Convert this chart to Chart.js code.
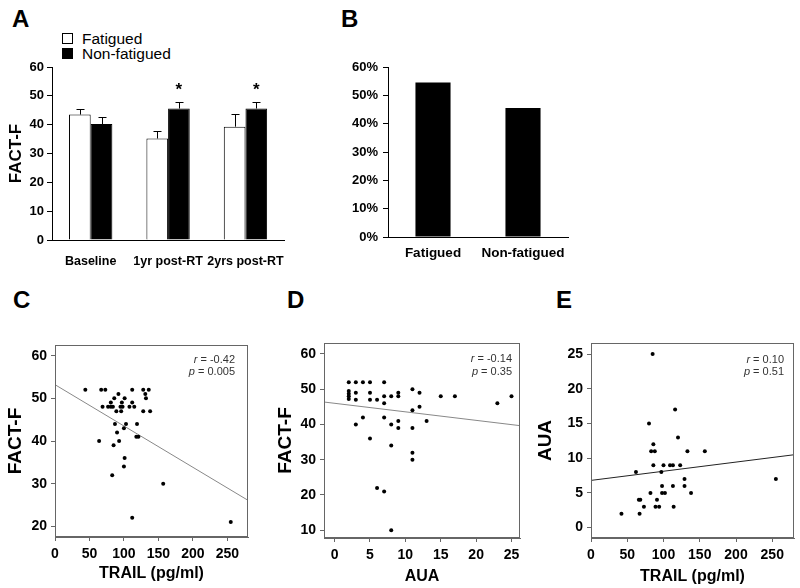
<!DOCTYPE html>
<html>
<head>
<meta charset="utf-8">
<script src="https://cdn.jsdelivr.net/npm/chart.js@4.4.0/dist/chart.umd.min.js"></script>
<style>
    body { margin: 0; background: #fff; width: 800px; height: 588px; position: relative; overflow: hidden;
           font-family: Arial, "Liberation Sans", sans-serif; color: #000; }
    canvas { position: absolute; }
    .tag { position: absolute; font-weight: bold; font-size: 24px; line-height: 24px; }
    .lg { position: absolute; font-size: 15.5px; line-height: 15px; white-space: nowrap; }
    .sw { position: absolute; width: 9px; height: 9px; border: 1px solid #000; }
</style>
</head>
<body>
<div class="tag" style="left:12px;top:7px">A</div>
<div class="tag" style="left:341px;top:7px">B</div>
<div class="tag" style="left:13px;top:288px">C</div>
<div class="tag" style="left:287px;top:288px">D</div>
<div class="tag" style="left:556px;top:288px">E</div>

<div class="sw" style="left:62px;top:33px;background:#fff"></div>
<div class="lg" style="left:82px;top:31px">Fatigued</div>
<div class="sw" style="left:62px;top:48px;background:#000"></div>
<div class="lg" style="left:82px;top:46px">Non-fatigued</div>

<canvas id="chartA" width="300" height="270" style="left:0;top:0"></canvas>
<canvas id="chartB" width="300" height="270" style="left:300px;top:0"></canvas>
<canvas id="chartC" width="270" height="298" style="left:0;top:290px"></canvas>
<canvas id="chartD" width="270" height="298" style="left:270px;top:290px"></canvas>
<canvas id="chartE" width="270" height="298" style="left:530px;top:290px"></canvas>

<script>
// Panel A: FACT-F by time point
var groups = ['Baseline', '1yr post-RT', '2yrs post-RT'];
var fatigued = [43.5, 35.2, 39.3];
var fatiguedErr = [2.1, 2.5, 4.5];
var nonFatigued = [40.2, 45.6, 45.6];
var nonFatiguedErr = [2.5, 2.2, 2.2];
var nonFatiguedSig = [false, true, true];
var aTicks = [0, 10, 20, 30, 40, 50, 60];

// Panel B: share of patients
var bGroups = ['Fatigued', 'Non-fatigued'];
var bPercent = [54.5, 45.5];

// Panel C: FACT-F vs TRAIL
var cTrail = [44, 67, 73, 112, 128, 136, 92, 131, 86, 101, 132, 81, 97, 112,
              69, 77, 81, 84, 95, 98, 108, 115, 89, 96, 128, 138, 87, 103, 119,
              100, 90, 118, 121, 64, 93, 85, 101, 100, 83, 157, 112, 255];
var cFact = [52, 52, 52, 52, 52, 52, 51, 51, 50, 50, 50, 49, 49, 49,
             48, 48, 48, 48, 48, 48, 48, 48, 47, 47, 47, 47, 44, 44, 44,
             43, 42, 41, 41, 40, 40, 39, 36, 34, 32, 30, 22, 21];
var cFit = [53.2, -0.0968];   // intercept, slope
var cStats = ['-0.42', '0.005'];
var cXTicks = [0, 50, 100, 150, 200, 250];
var cYTicks = [20, 30, 40, 50, 60];

// Panel D: FACT-F vs AUA
var dAua = [2, 3, 4, 5, 7, 11, 2, 2, 2, 2, 3, 3, 5, 5, 6, 7, 7, 8, 9, 9, 12,
            11, 12, 13, 15, 17, 23, 25, 4, 3, 7, 8, 9, 9, 11, 5, 8, 11, 11, 6, 7, 8];
var dFact = [52, 52, 52, 52, 52, 50, 49.5, 48.7, 48, 47.2, 49, 47, 49, 47, 47, 48, 46, 48, 49, 48, 49,
             44, 45, 41, 48, 48, 46, 48, 42, 40, 42, 40, 41, 39, 39, 36, 34, 32, 30, 22, 21, 10];
var dFit = [46.0, -0.242];
var dStats = ['-0.14', '0.35'];
var dXTicks = [0, 5, 10, 15, 20, 25];
var dYTicks = [10, 20, 30, 40, 50, 60];

// Panel E: AUA vs TRAIL
var eTrail = [85, 116, 80, 120, 86, 83, 88, 133, 157, 86, 100, 109, 113, 123, 62, 97, 129,
              98, 113, 129, 82, 98, 102, 138, 66, 68, 91, 73, 89, 94, 114, 42, 67, 255];
var eAua = [25, 17, 15, 13, 12, 11, 11, 11, 11, 9, 9, 9, 9, 9, 8, 8, 7,
            6, 6, 6, 5, 5, 5, 5, 4, 4, 4, 3, 3, 3, 3, 2, 2, 7];
var eFit = [6.8, 0.0132];
var eStats = ['0.10', '0.51'];
var eXTicks = [0, 50, 100, 150, 200, 250];
var eYTicks = [0, 5, 10, 15, 20, 25];

var FONT = 'Arial, "Liberation Sans", sans-serif';
Chart.defaults.font.family = FONT;
Chart.defaults.color = '#000';
Chart.defaults.animation = false;
Chart.defaults.plugins.legend.display = false;
Chart.defaults.plugins.tooltip.enabled = false;

function fixSize(prop, size) {
    return function (scale) { scale[prop] = size; };
}
function setTicks(list) {
    return function (scale) {
        scale.ticks = list.map(function (v) { return { value: v }; });
    };
}

// upper error bars and significance stars for panel A
var errorBars = {
    id: 'errorBars',
    afterDatasetsDraw: function (chart) {
        var ctx = chart.ctx;
        var y = chart.scales.y;
        chart.data.datasets.forEach(function (ds, i) {
            chart.getDatasetMeta(i).data.forEach(function (bar, j) {
                var top = Math.round(y.getPixelForValue(ds.data[j] + ds.errors[j])) + 0.5;
                var x = Math.round(bar.x) + 0.5;
                ctx.save();
                ctx.strokeStyle = '#000';
                ctx.lineWidth = 1;
                ctx.beginPath();
                ctx.moveTo(x, bar.y);
                ctx.lineTo(x, top);
                ctx.moveTo(x - 4, top);
                ctx.lineTo(x + 4, top);
                ctx.stroke();
                if (ds.sig && ds.sig[j]) {
                    ctx.fillStyle = '#000';
                    ctx.font = 'bold 17px ' + FONT;
                    ctx.textAlign = 'center';
                    ctx.textBaseline = 'alphabetic';
                    ctx.fillText('*', bar.x, top - 8);
                }
                ctx.restore();
            });
        });
    }
};

new Chart(document.getElementById('chartA'), {
    type: 'bar',
    data: {
        labels: groups,
        datasets: [{
            label: 'Fatigued',
            data: fatigued,
            errors: fatiguedErr,
            backgroundColor: '#fff',
            borderColor: '#000',
            borderWidth: 1,
            barPercentage: 1,
            categoryPercentage: 0.56
        }, {
            label: 'Non-fatigued',
            data: nonFatigued,
            errors: nonFatiguedErr,
            sig: nonFatiguedSig,
            backgroundColor: '#000',
            borderColor: '#000',
            borderWidth: 1,
            barPercentage: 1,
            categoryPercentage: 0.56
        }]
    },
    options: {
        responsive: false,
        layout: { padding: { top: 67, right: 14, left: 0, bottom: 0 } },
        scales: {
            x: {
                afterFit: fixSize('height', 30),
                grid: { display: false, drawTicks: false },
                border: { display: true, color: '#000', width: 1 },
                ticks: { padding: 14, autoSkip: false, maxRotation: 0, minRotation: 0,
                         font: { size: 12.5, weight: 'bold' } }
            },
            y: {
                min: 0, max: 60,
                afterFit: fixSize('width', 52),
                afterBuildTicks: setTicks(aTicks),
                grid: { drawOnChartArea: false, tickLength: 5, color: '#000' },
                border: { display: true, color: '#000', width: 1 },
                ticks: { padding: 3, font: { size: 13, weight: 'bold' } },
                title: { display: true, text: 'FACT-F', padding: { top: 6, bottom: 0 },
                         font: { size: 17, weight: 'bold' } }
            }
        }
    },
    plugins: [errorBars]
});

new Chart(document.getElementById('chartB'), {
    type: 'bar',
    data: {
        labels: bGroups,
        datasets: [{
            data: bPercent,
            backgroundColor: '#000',
            barPercentage: 0.39,
            categoryPercentage: 1
        }]
    },
    options: {
        responsive: false,
        layout: { padding: { top: 67, right: 32, left: 0, bottom: 0 } },
        scales: {
            x: {
                afterFit: fixSize('height', 33),
                grid: { display: false, drawTicks: false },
                border: { display: true, color: '#000', width: 1 },
                ticks: { padding: 8, autoSkip: false, maxRotation: 0, font: { size: 13.5, weight: 'bold' } }
            },
            y: {
                min: 0, max: 60,
                afterFit: fixSize('width', 88),
                afterBuildTicks: setTicks(aTicks),
                grid: { drawOnChartArea: false, tickLength: 5, color: '#000' },
                border: { display: true, color: '#000', width: 1 },
                ticks: {
                    padding: 5,
                    font: { size: 13, weight: 'bold' },
                    callback: function (v) { return v + '%'; }
                }
            }
        }
    }
});

// frame around the plot and the r / p note in its corner
var framePlugin = {
    id: 'frame',
    afterDraw: function (chart) {
        var ctx = chart.ctx;
        var a = chart.chartArea;
        var o = chart.options.plugins.frame;
        ctx.save();
        ctx.strokeStyle = '#666';
        ctx.lineWidth = 1;
        ctx.strokeRect(Math.round(a.left) + 0.5, Math.round(a.top) + 0.5,
                       Math.round(a.right - a.left) - 1, Math.round(a.bottom - a.top) - 1);
        ctx.fillStyle = '#333';
        ctx.textBaseline = 'middle';
        ctx.textAlign = 'left';
        var rows = [['r', ' = ' + o.stats[0]], ['p', ' = ' + o.stats[1]]];
        rows.forEach(function (row, k) {
            ctx.font = '11px ' + FONT;
            var w2 = ctx.measureText(row[1]).width;
            ctx.font = 'italic 11px ' + FONT;
            var w1 = ctx.measureText(row[0]).width;
            var x = a.right - o.inset - w1 - w2;
            var y = a.top + o.rows[k];
            ctx.fillText(row[0], x, y);
            ctx.font = '11px ' + FONT;
            ctx.fillText(row[1], x + w1, y);
        });
        ctx.restore();
    }
};

function drawScatter(id, cfg) {
    var pts = cfg.xs.map(function (x, i) { return { x: x, y: cfg.ys[i] }; });
    var line = [cfg.xMin, cfg.xMax].map(function (x) {
        return { x: x, y: cfg.fit[0] + cfg.fit[1] * x };
    });
    new Chart(document.getElementById(id), {
        type: 'scatter',
        data: {
            datasets: [{
                data: pts,
                pointRadius: 2,
                pointBackgroundColor: '#000',
                pointBorderWidth: 0
            }, {
                type: 'line',
                data: line,
                borderColor: cfg.lineColor,
                borderWidth: 1,
                pointRadius: 0,
                fill: false
            }]
        },
        options: {
            responsive: false,
            layout: { padding: { top: cfg.top, right: cfg.right, left: 0, bottom: 0 } },
            plugins: { frame: { stats: cfg.stats, inset: cfg.inset, rows: cfg.rows } },
            scales: {
                x: {
                    type: 'linear',
                    min: cfg.xMin, max: cfg.xMax,
                    afterFit: fixSize('height', cfg.xHeight),
                    afterBuildTicks: setTicks(cfg.xTicks),
                    grid: { drawOnChartArea: false, tickLength: 4, color: '#666' },
                    border: { display: true, color: '#666', width: 1 },
                    ticks: { padding: 5, maxRotation: 0, font: { size: 14, weight: 'bold' } },
                    title: { display: true, text: cfg.xTitle, padding: { top: 0, bottom: cfg.xTitlePad },
                             font: { size: 16, weight: 'bold' } }
                },
                y: {
                    min: cfg.yMin, max: cfg.yMax,
                    afterFit: fixSize('width', cfg.yWidth),
                    afterBuildTicks: setTicks(cfg.yTicks),
                    grid: { drawOnChartArea: false, tickLength: 4, color: '#666' },
                    border: { display: true, color: '#666', width: 1 },
                    ticks: { padding: 4, font: { size: 14, weight: 'bold' } },
                    title: { display: true, text: cfg.yTitle, padding: { top: 4, bottom: 0 },
                             font: { size: 19, weight: 'bold' } }
                }
            }
        },
        plugins: [framePlugin]
    });
}

drawScatter('chartC', {
    xs: cTrail, ys: cFact, fit: cFit, stats: cStats,
    xTicks: cXTicks, yTicks: cYTicks,
    xMin: 0, xMax: 280, yMin: 17.5, yMax: 62.5,
    xTitle: 'TRAIL (pg/ml)', yTitle: 'FACT-F', lineColor: '#888',
    top: 55, right: 22, yWidth: 55, xHeight: 51, xTitlePad: 5,
    inset: 13, rows: [15, 27]
});

drawScatter('chartD', {
    xs: dAua, ys: dFact, fit: dFit, stats: dStats,
    xTicks: dXTicks, yTicks: dYTicks,
    xMin: -1.5, xMax: 26.2, yMin: 7.8, yMax: 63.1,
    xTitle: 'AUA', yTitle: 'FACT-F', lineColor: '#888',
    top: 53, right: 20, yWidth: 54, xHeight: 50, xTitlePad: 2,
    inset: 8, rows: [16, 29]
});

drawScatter('chartE', {
    xs: eTrail, ys: eAua, fit: eFit, stats: eStats,
    xTicks: eXTicks, yTicks: eYTicks,
    xMin: 0, xMax: 280, yMin: -1.5, yMax: 26.6,
    xTitle: 'TRAIL (pg/ml)', yTitle: 'AUA', lineColor: '#222',
    top: 53, right: 6, yWidth: 61, xHeight: 50, xTitlePad: 2,
    inset: 10, rows: [17, 29]
});
</script>
</body>
</html>
